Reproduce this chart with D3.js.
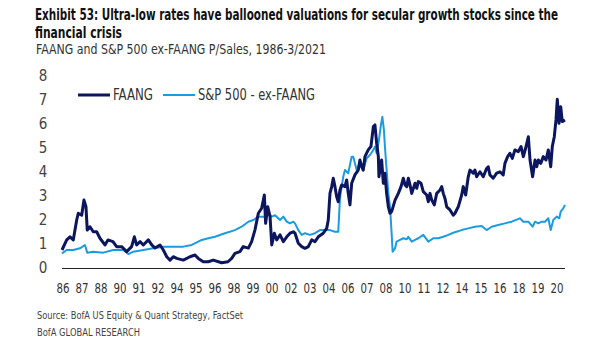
<!DOCTYPE html>
<html>
<head>
<meta charset="utf-8">
<script src="https://cdn.jsdelivr.net/npm/d3@7"></script>
<style>
  body { margin: 0; background: #fff; }
  svg { display: block; }
  .narrow { font-family: "Liberation Sans Narrow", "DejaVu Sans Condensed", "Roboto", sans-serif; }
</style>
</head>
<body>
<div id="chart"></div>
<script>
// x tick labels (two-digit years), evenly spaced along the axis
const tickLabels = ["86","87","88","90","91","92","94","95","96","98","99","00","02","03","04","06","07","08","10","11","12","14","15","16","18","19","20"];
const yTicks = [0,1,2,3,4,5,6,7,8];
const seriesNames = ["FAANG", "S&P 500 - ex-FAANG"];

// FAANG P/Sales, [decimal year, value]
const faang = [
  [1986.00,0.75],[1986.33,1.17],[1986.56,1.30],[1986.79,1.17],[1987.03,2.00],[1987.14,2.28],[1987.38,2.20],
  [1987.54,2.83],[1987.68,2.55],[1987.77,1.58],[1987.96,1.72],[1988.19,1.51],[1988.43,1.51],[1988.66,1.24],
  [1989.01,0.96],[1989.22,1.17],[1989.57,1.10],[1989.83,0.89],[1990.18,0.89],[1990.53,0.68],[1990.88,0.89],
  [1991.07,1.30],[1991.23,0.96],[1991.47,1.10],[1991.70,0.96],[1992.05,1.17],[1992.29,0.96],[1992.52,0.83],
  [1992.87,0.96],[1993.10,0.75],[1993.34,0.47],[1993.57,0.33],[1993.80,0.47],[1994.04,0.40],[1994.50,0.33],
  [1994.97,0.47],[1995.32,0.54],[1995.55,0.40],[1995.90,0.26],[1996.25,0.26],[1996.60,0.33],[1997.19,0.22],
  [1997.63,0.26],[1997.89,0.40],[1998.12,0.61],[1998.47,0.68],[1998.70,0.89],[1999.06,0.83],[1999.29,1.10],
  [1999.52,1.58],[1999.76,2.28],[1999.99,2.49],[2000.18,3.04],[2000.27,1.86],[2000.42,2.55],[2000.58,2.14],
  [2000.70,0.96],[2000.88,1.45],[2001.05,1.17],[2001.28,1.38],[2001.51,1.10],[2001.75,1.30],[2001.98,1.45],
  [2002.21,1.51],[2002.33,1.45],[2002.56,1.03],[2002.80,0.89],[2003.03,0.82],[2003.26,0.89],[2003.50,1.17],
  [2003.73,1.10],[2003.96,1.30],[2004.31,1.45],[2004.55,1.65],[2004.66,2.00],[2004.78,3.11],[2004.90,3.39],
  [2005.01,3.74],[2005.13,3.39],[2005.25,2.97],[2005.36,2.76],[2005.48,3.25],[2005.60,3.46],[2005.83,3.39],
  [2005.95,3.67],[2006.06,3.11],[2006.18,2.63],[2006.30,3.53],[2006.53,3.88],[2006.76,4.08],[2006.88,4.50],
  [2007.00,4.22],[2007.11,4.08],[2007.23,4.64],[2007.46,4.92],[2007.65,5.06],[2007.82,5.89],[2007.93,5.96],
  [2008.05,5.20],[2008.17,4.64],[2008.21,3.80],[2008.40,4.50],[2008.52,3.53],[2008.63,3.95],[2008.75,3.11],
  [2008.87,2.55],[2008.99,2.28],[2009.10,2.35],[2009.34,2.83],[2009.57,3.11],[2009.76,3.39],[2009.92,3.74],
  [2010.04,3.46],[2010.16,3.39],[2010.27,3.74],[2010.39,3.46],[2010.51,3.11],[2010.74,3.53],[2010.86,3.32],
  [2010.97,3.60],[2011.16,3.53],[2011.32,3.18],[2011.56,3.04],[2011.67,2.76],[2011.79,3.11],[2011.91,2.83],
  [2012.09,2.63],[2012.26,3.11],[2012.49,3.25],[2012.61,3.39],[2012.72,3.11],[2012.84,2.90],[2012.96,2.55],
  [2013.19,2.42],[2013.42,2.20],[2013.54,2.28],[2013.77,2.55],[2014.01,3.04],[2014.12,3.39],[2014.29,3.04],
  [2014.47,3.80],[2014.59,4.08],[2014.82,3.95],[2014.94,4.08],[2015.06,3.80],[2015.29,4.01],[2015.52,3.80],
  [2015.76,4.15],[2015.87,4.22],[2015.99,3.88],[2016.22,3.74],[2016.46,3.95],[2016.69,4.01],[2016.92,3.88],
  [2017.04,4.36],[2017.23,4.64],[2017.39,4.78],[2017.56,4.57],[2017.74,4.92],[2017.98,4.85],[2018.17,5.06],
  [2018.33,4.64],[2018.49,4.99],[2018.68,5.47],[2018.80,4.50],[2018.98,3.80],[2019.15,4.50],[2019.27,4.22],
  [2019.38,4.50],[2019.55,4.36],[2019.73,4.64],[2019.92,4.50],[2020.08,4.92],[2020.25,4.22],[2020.36,5.06],
  [2020.50,5.47],[2020.62,6.17],[2020.71,7.03],[2020.83,6.03],[2020.95,6.72],[2021.06,6.10],[2021.25,6.17]
];

// S&P 500 ex-FAANG P/Sales, [decimal year, value]
const spxExFaang = [
  [1986.00,0.61],[1986.33,0.75],[1986.79,0.75],[1987.26,0.82],[1987.61,0.96],[1987.77,0.64],[1988.19,0.68],
  [1988.89,0.64],[1989.59,0.75],[1990.30,0.75],[1990.65,0.58],[1991.00,0.68],[1991.70,0.75],[1992.40,0.82],
  [1993.10,0.89],[1993.80,0.89],[1994.50,0.89],[1995.09,0.96],[1995.55,1.10],[1995.79,1.17],[1996.25,1.24],
  [1996.72,1.30],[1997.42,1.45],[1998.12,1.58],[1998.59,1.72],[1999.06,1.93],[1999.41,2.00],[1999.76,2.14],
  [2000.23,2.14],[2000.46,2.28],[2000.70,2.14],[2000.93,2.20],[2001.28,2.00],[2001.51,2.14],[2001.75,1.93],
  [2001.98,1.86],[2002.21,1.93],[2002.33,1.86],[2002.56,1.58],[2002.80,1.38],[2003.03,1.45],[2003.38,1.38],
  [2003.73,1.45],[2004.08,1.58],[2004.43,1.58],[2004.78,1.58],[2005.13,1.51],[2005.36,1.51],[2005.48,2.90],
  [2005.60,3.39],[2005.71,3.80],[2005.83,4.08],[2006.06,3.95],[2006.30,4.64],[2006.41,4.64],[2006.65,4.08],
  [2006.88,4.36],[2007.11,4.08],[2007.35,4.57],[2007.58,4.71],[2007.82,4.92],[2007.93,5.06],[2008.05,4.78],
  [2008.21,5.33],[2008.35,5.96],[2008.45,6.30],[2008.56,5.75],[2008.63,5.06],[2008.75,4.08],[2008.87,3.11],
  [2008.99,2.55],[2009.10,1.45],[2009.17,0.68],[2009.34,0.82],[2009.45,1.10],[2009.69,1.17],[2009.92,1.24],
  [2010.16,1.20],[2010.27,1.30],[2010.51,1.10],[2010.74,1.17],[2010.97,1.24],[2011.32,1.38],[2011.67,1.10],
  [2012.02,1.24],[2012.37,1.24],[2012.72,1.30],[2013.07,1.38],[2013.42,1.47],[2014.01,1.58],[2014.47,1.65],
  [2014.94,1.72],[2015.41,1.75],[2015.76,1.58],[2016.11,1.72],[2016.57,1.79],[2017.04,1.86],[2017.51,1.93],
  [2018.09,2.07],[2018.33,1.93],[2018.68,1.93],[2018.98,1.72],[2019.15,1.93],[2019.38,1.86],[2019.62,1.93],
  [2019.85,1.93],[2020.08,2.07],[2020.25,1.58],[2020.43,2.00],[2020.67,2.14],[2020.85,2.07],[2020.95,2.35],
  [2021.13,2.49],[2021.25,2.63]
];

const colors = ["#0b165e", "#1b9be0"];
const widths = [3, 2];

const W = 605, H = 341;
const svg = d3.select("#chart").append("svg")
  .attr("width", W).attr("height", H)
  .attr("class", "narrow");

// squeeze a text into the width it has in the reference
function fit(sel, w) {
  sel.attr("textLength", w).attr("lengthAdjust", "spacingAndGlyphs");
}

/////////////// Titles ///////////////
svg.append("text").attr("x", 35).attr("y", 20)
  .style("font-size", "15px").style("font-weight", "bold").attr("fill", "#111")
  .text("Exhibit 53: Ultra-low rates have ballooned valuations for secular growth stocks since the")
  .call(fit, 523);
svg.append("text").attr("x", 35).attr("y", 38)
  .style("font-size", "15px").style("font-weight", "bold").attr("fill", "#111")
  .text("financial crisis")
  .call(fit, 87);
svg.append("text").attr("x", 36).attr("y", 54)
  .style("font-size", "14px").attr("fill", "#333")
  .text("FAANG and S&P 500 ex-FAANG P/Sales, 1986-3/2021")
  .call(fit, 290);

/////////////// Scales ///////////////
const x = d3.scaleLinear().domain([1986, 2021.25]).range([62, 565]);
const y = d3.scaleLinear().domain([0, 8]).range([268, 76]);
const xLab = d3.scalePoint().domain(tickLabels).range([63, 557]);

// y labels
svg.append("g").selectAll("text")
  .data(yTicks)
  .enter().append("text")
  .attr("x", 43).attr("y", d => y(d))
  .attr("dy", "0.36em")
  .attr("text-anchor", "middle")
  .style("font-size", "15px").attr("fill", "#444")
  .text(d => d);

// x axis line
svg.append("line")
  .attr("x1", x(1986)).attr("x2", x(2021.25))
  .attr("y1", y(0) + 0.5).attr("y2", y(0) + 0.5)
  .attr("stroke", "#222").attr("stroke-width", 1);

// x labels
svg.append("g").selectAll("text")
  .data(tickLabels)
  .enter().append("text")
  .attr("x", d => xLab(d)).attr("y", 293)
  .attr("text-anchor", "middle")
  .style("font-size", "14px").attr("fill", "#333")
  .text(d => d)
  .call(fit, 13);

/////////////// Lines ///////////////
const line = d3.line().x(d => x(d[0])).y(d => y(d[1]));
[spxExFaang, faang].forEach((s, k) => {
  const i = 1 - k;
  svg.append("path")
    .datum(s)
    .attr("d", line)
    .attr("fill", "none")
    .attr("stroke", colors[i])
    .attr("stroke-width", widths[i])
    .attr("stroke-linejoin", "round");
});

/////////////// Legend ///////////////
const legX = [78, 163];
const legW = [40, 117];
seriesNames.forEach((n, i) => {
  const g = svg.append("g").attr("transform", `translate(${legX[i]},95)`);
  g.append("line").attr("x1", 0).attr("x2", 32)
    .attr("stroke", colors[i]).attr("stroke-width", widths[i]);
  g.append("text").attr("x", 35).attr("dy", "0.35em")
    .style("font-size", "15px").attr("fill", "#333")
    .text(n)
    .call(fit, legW[i]);
});

/////////////// Source ///////////////
svg.append("text").attr("x", 37).attr("y", 319)
  .style("font-size", "10px").attr("fill", "#444")
  .text("Source: BofA US Equity & Quant Strategy, FactSet")
  .call(fit, 206);
svg.append("text").attr("x", 37).attr("y", 336)
  .style("font-size", "10px").attr("fill", "#444")
  .text("BofA GLOBAL RESEARCH")
  .call(fit, 103);
</script>
</body>
</html>
